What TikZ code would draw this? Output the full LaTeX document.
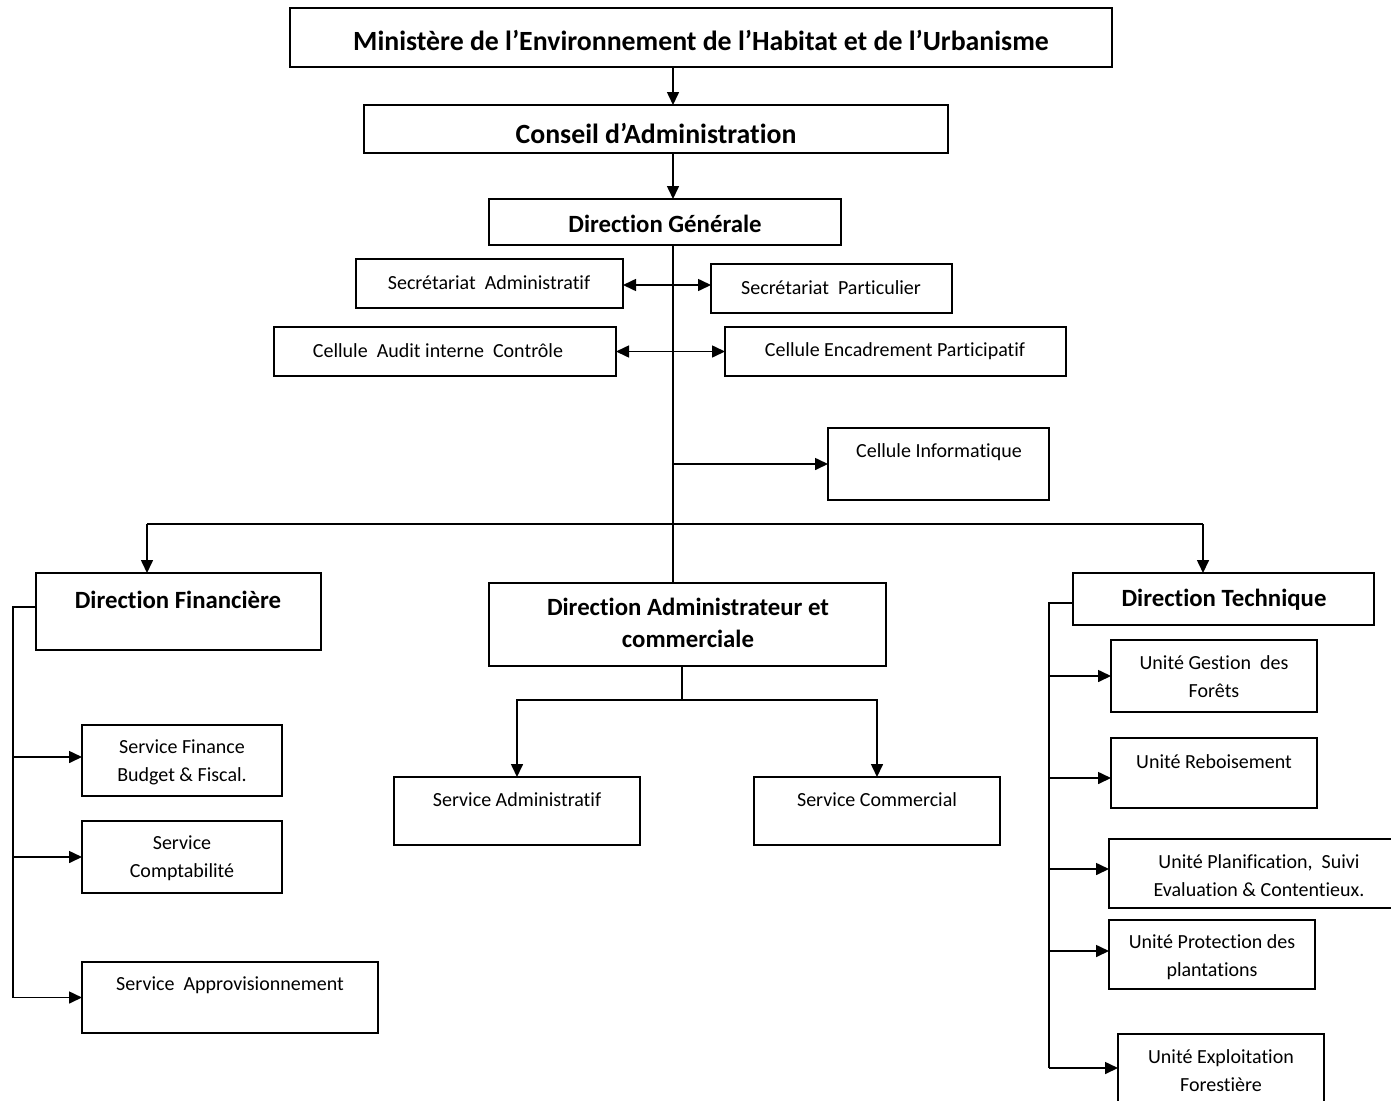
\documentclass[tikz,border=0pt]{standalone}
\usepackage{fontspec}
\setmainfont{Carlito}[Ligatures={NoCommon,NoContextual,NoRare},Contextuals={NoAlternate}]
\usetikzlibrary{arrows.meta,fit}
\begin{document}
\begin{tikzpicture}[x=1pt,y=-1pt,
 box/.style={draw, line width=1.6pt, inner sep=0pt, outer sep=0pt},
 lbl/.style={font=\fontsize{20}{28}\selectfont, align=center, inner sep=0pt},
 blbl/.style={font=\fontsize{24.8}{32}\selectfont\bfseries, align=center, inner sep=0pt},
 tlbl/.style={font=\fontsize{27.8}{34}\selectfont\bfseries, align=center, inner sep=0pt},
 ln/.style={line width=1.6pt},
 arr/.style={ln, -{Triangle[length=13pt,width=12pt]}},
 darr/.style={ln, {Triangle[length=13pt,width=12pt]}-{Triangle[length=13pt,width=12pt]}}]
\useasboundingbox (0,0) rectangle (1391,1100);
\fill[white] (0,0) rectangle (1391,1100);
\clip (0,0) rectangle (1391,1100);
% boxes
\node[box, fit={(290,8) (1112,67)}] (min) {};
\node[box, fit={(364,105) (948,153)}] (cons) {};
\node[box, fit={(489,199) (841,245)}] (dg) {};
\node[box, fit={(356,259) (623,308)}] (sa) {};
\node[box, fit={(711,264) (952,313)}] (sp) {};
\node[box, fit={(274,327) (616,376)}] (ca) {};
\node[box, fit={(725,327) (1066,376)}] (ce) {};
\node[box, fit={(828,428) (1049,500)}] (ci) {};
\node[box, fit={(36,573) (321,650)}] (df) {};
\node[box, fit={(489,583) (886,666)}] (da) {};
\node[box, fit={(1073,573) (1374,625)}] (dt) {};
\node[box, fit={(394,777) (640,845)}] (sad) {};
\node[box, fit={(754,777) (1000,845)}] (scm) {};
\node[box, fit={(82,725) (282,796)}] (sfb) {};
\node[box, fit={(82,821) (282,893)}] (sco) {};
\node[box, fit={(82,962) (378,1033)}] (sap) {};
\node[box, fit={(1111,640) (1317,712)}] (ugf) {};
\node[box, fit={(1111,738) (1317,808)}] (ur) {};
\node[box, fit={(1109,839) (1410,908)}] (up) {};
\node[box, fit={(1109,920) (1315,989)}] (upp) {};
\node[box, fit={(1118,1034) (1324,1106)}] (ue) {};
% texts
\node[tlbl] (tmin) at (701,40) {Ministère de l’Environnement de l’Habitat et de l’Urbanisme};
\node[tlbl] (tcons) at (656,133) {Conseil d’Administration};
\node[blbl] (tdg) at (665,224) {Direction Générale};
\node[lbl] (tsa) at (489,283) {Secrétariat\ \ Administratif};
\node[lbl] (tsp) at (831,288) {Secrétariat\ \ Particulier};
\node[lbl] (tca) at (438,351) {Cellule\ \ Audit interne\ \ Contrôle};
\node[lbl] (tce) at (895,351) {Cellule Encadrement Participatif};
\node[lbl] (tci) at (939,452) {Cellule Informatique};
\node[blbl] (tdf) at (178,600) {Direction Financière};
\node[blbl] (tda) at (688,623) {Direction Administrateur et\\commerciale};
\node[blbl] (tdt) at (1224,600) {Direction Technique};
\node[lbl] (tsad) at (517,800) {Service Administratif};
\node[lbl] (tscm) at (877,800) {Service Commercial};
\node[lbl] (tsfb) at (182,762) {Service Finance\\Budget \& Fiscal.};
\node[lbl] (tsco) at (182,858) {Service\\Comptabilité};
\node[lbl] (tsap) at (230,985) {Service\ \ Approvisionnement};
\node[lbl] (tugf) at (1214,677) {Unité Gestion\ \ des\\Forêts};
\node[lbl] (tur) at (1214,762) {Unité Reboisement};
\node[lbl] (tup) at (1259,876) {Unité Planification,\ \ Suivi\\Evaluation \& Contentieux.};
\node[lbl] (tupp) at (1212,957) {Unité Protection des\\plantations};
\node[lbl] (tue) at (1221,1071) {Unité Exploitation\\Forestière};
% helper coordinates
\coordinate (spine) at (673,0);
\coordinate (bl) at (147,524);
\coordinate (br) at (1203,524);
\coordinate (dab) at (682,700);
\coordinate (lb) at (13,607);
\coordinate (rb) at (1049,603);
% connectors
\draw[arr] (min.south -| spine) -- (cons.north -| spine);
\draw[arr] (cons.south -| spine) -- (dg.north -| spine);
\draw[ln] (dg.south -| spine) -- (da.north -| spine);
\draw[darr] (sa.east |- 0,285) -- (sp.west |- 0,285);
\draw[darr] (ca.east) -- (ce.west);
\draw[arr] (ci.west -| spine) -- (ci.west);
\draw[ln] (bl) -- (br);
\draw[arr] (bl) -- (bl |- df.north);
\draw[arr] (br) -- (br |- dt.north);
\draw[ln] (da.south -| dab) -- (dab);
\draw[arr] (dab) -| (sad.north);
\draw[arr] (dab) -| (scm.north);
\draw[ln] (df.west |- lb) -- (lb) -- (lb |- sap.west);
\draw[arr] (lb |- 0,757) -- (sfb.west |- 0,757);
\draw[arr] (lb |- sco.west) -- (sco.west);
\draw[arr] (lb |- sap.west) -- (sap.west);
\draw[ln] (dt.west |- rb) -- (rb) -- (rb |- 0,1068);
\draw[arr] (rb |- ugf.west) -- (ugf.west);
\draw[arr] (rb |- 0,778) -- (ur.west |- 0,778);
\draw[arr] (rb |- 0,869) -- (up.west |- 0,869);
\draw[arr] (rb |- 0,951) -- (upp.west |- 0,951);
\draw[arr] (rb |- 0,1068) -- (ue.west |- 0,1068);
\end{tikzpicture}
\end{document}
